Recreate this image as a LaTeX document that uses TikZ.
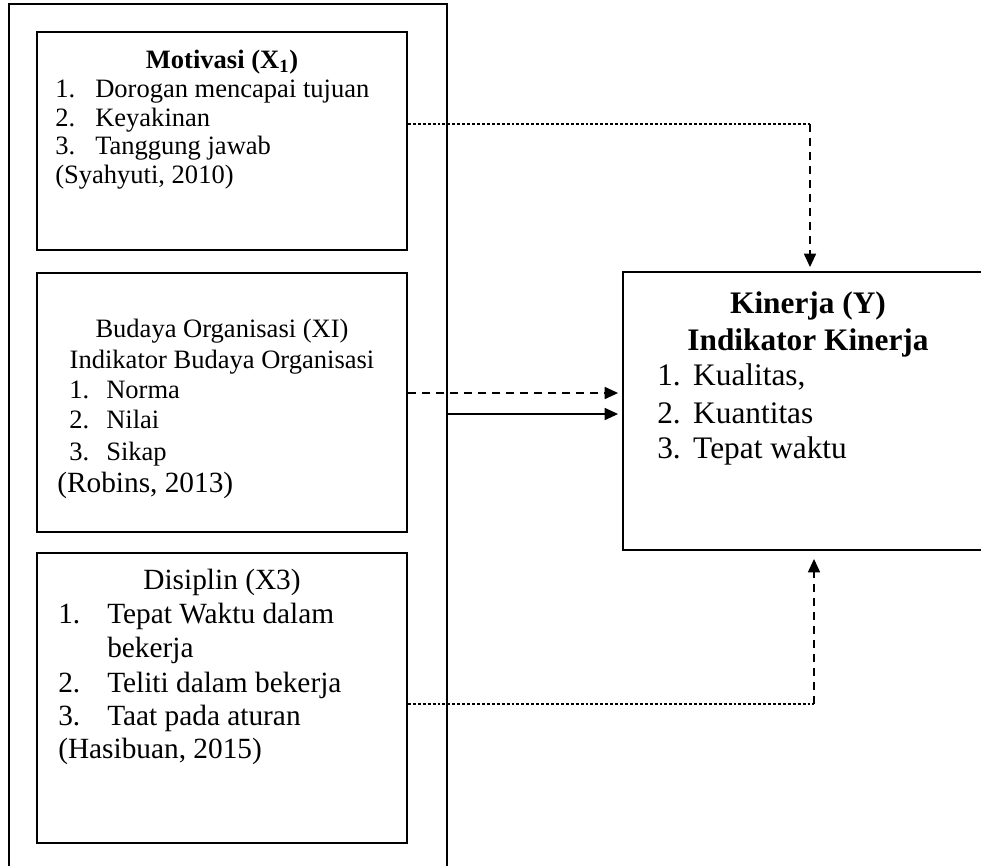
\documentclass[tikz,border=0pt]{standalone}
\usepackage{fontspec}
\setmainfont{Liberation Serif}
\usetikzlibrary{arrows.meta,fit}
\newcommand\fsa{\fontsize{19.9pt}{24pt}\selectfont}
\newcommand\fsb{\fontsize{22pt}{26pt}\selectfont}
\newcommand\fsc{\fontsize{23.5pt}{28pt}\selectfont}
\begin{document}
\begin{tikzpicture}[x=0.75pt,y=-0.75pt,
  box/.style={draw, line width=1.4pt, inner sep=0pt},
  txt/.style={inner sep=0pt, anchor=base west},
  ctxt/.style={inner sep=0pt, anchor=base},
  fdot/.style={line width=1pt, dash pattern=on 2.2pt off 1.5pt},
  dline/.style={line width=1.1pt, dash pattern=on 6pt off 4.5pt},
  sline/.style={line width=1.1pt},
  tip/.style={-{Triangle[length=10pt,width=9pt]}},
]
\useasboundingbox (0,0) rectangle (981,865);
\clip (0,0) rectangle (981,865);
\fill[white] (0,0) rectangle (981,865);

% boxes
\coordinate (o1) at (9,4);   \coordinate (o2) at (447,905);
\coordinate (a1) at (37,32); \coordinate (a2) at (407,250);
\coordinate (b1c) at (37,273); \coordinate (b2c) at (407,532);
\coordinate (d1c) at (37,553); \coordinate (d2c) at (407,843);
\coordinate (k1c) at (623,272); \coordinate (k2c) at (995,550);
\node[box, fit=(o1)(o2)] (outer) {};
\node[box, fit=(a1)(a2)] (mot) {};
\node[box, fit=(b1c)(b2c)] (bud) {};
\node[box, fit=(d1c)(d2c)] (dis) {};
\node[box, fit=(k1c)(k2c)] (kin) {};

% Motivasi
\node[ctxt, font=\fsa\bfseries] (mt) at (222,68) {Motivasi (X\textsubscript{1})};
\node[txt, font=\fsa] (m1) at (55,97) {\makebox[30pt][l]{1.}Dorogan mencapai tujuan};
\node[txt, font=\fsa] (m2) at (55,126) {\makebox[30pt][l]{2.}Keyakinan};
\node[txt, font=\fsa] (m3) at (55,154) {\makebox[30pt][l]{3.}Tanggung jawab};
\node[txt, font=\fsa] (m4) at (55,183) {(Syahyuti, 2010)};

% Budaya
\node[ctxt, font=\fsa] (bt1) at (222,337) {Budaya Organisasi (XI)};
\node[ctxt, font=\fsa] (bt2) at (222,368) {Indikator Budaya Organisasi};
\node[txt, font=\fsa] (b1) at (69,398) {\makebox[27.75pt][l]{1.}Norma};
\node[txt, font=\fsa] (b2) at (69,428) {\makebox[27.75pt][l]{2.}Nilai};
\node[txt, font=\fsa] (b3) at (69,460) {\makebox[27.75pt][l]{3.}Sikap};
\node[txt, font=\fsb] (b4) at (57,492) {(Robins, 2013)};

% Disiplin
\node[ctxt, font=\fsb] (dt) at (222,589) {Disiplin (X3)};
\node[txt, font=\fsb] (d1) at (58,623) {\makebox[36.75pt][l]{1.}Tepat Waktu dalam};
\node[txt, font=\fsb] (d1b) at (107,657) {bekerja};
\node[txt, font=\fsb] (d2) at (58,692) {\makebox[36.75pt][l]{2.}Teliti dalam bekerja};
\node[txt, font=\fsb] (d3) at (58,725) {\makebox[36.75pt][l]{3.}Taat pada aturan};
\node[txt, font=\fsb] (d4) at (58,758) {(Hasibuan, 2015)};

% Kinerja
\node[ctxt, font=\fsc\bfseries] (kt1) at (808,313) {Kinerja (Y)};
\node[ctxt, font=\fsc\bfseries] (kt2) at (808,350) {Indikator Kinerja};
\node[txt, font=\fsc] (k1) at (657,385) {\makebox[27pt][l]{1.}Kualitas,};
\node[txt, font=\fsc] (k2) at (657,423) {\makebox[27pt][l]{2.}Kuantitas};
\node[txt, font=\fsc] (k3) at (657,458) {\makebox[27pt][l]{3.}Tepat waktu};

% connectors
\coordinate (c1) at (810,124);
\draw[fdot] (mot.east |- c1) -- (c1);
\draw[dline, tip, shorten >=3pt] (c1) -- (c1 |- kin.north);

\coordinate (c2) at (407,393);
\draw[dline, tip, shorten >=3pt] (bud.east |- c2) -- (c2 -| kin.west);

\coordinate (c3) at (447,414);
\draw[sline, tip, shorten >=3pt] (outer.east |- c3) -- (c3 -| kin.west);

\coordinate (c4) at (814,704);
\draw[fdot] (dis.east |- c4) -- (c4);
\draw[dline, tip, shorten >=6pt] (c4) -- (c4 |- kin.south);
\end{tikzpicture}
\end{document}
